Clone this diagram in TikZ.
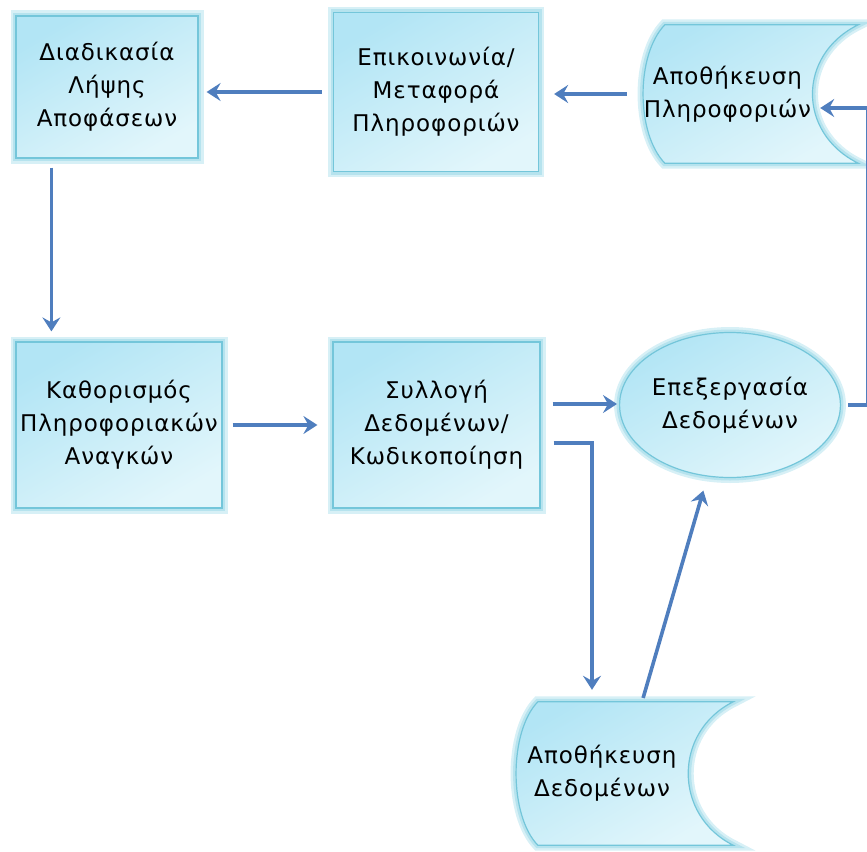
\documentclass[tikz,border=0pt]{standalone}
\usepackage{fontspec}
\setmainfont[LetterSpace=4]{DejaVu Sans}
\usetikzlibrary{positioning,shapes.geometric,arrows.meta,calc,backgrounds}

\definecolor{flowblue}{HTML}{4F7EBE}
\definecolor{aquaedge}{HTML}{74C6DA}
\definecolor{aquaglow}{HTML}{B6E3EE}
\definecolor{aquatop}{HTML}{B2E5F5}
\definecolor{aquabot}{HTML}{E2F6FB}

\tikzset{
  stepbox/.style={rectangle, draw=aquaedge, line width=1.2pt,
    top color=aquatop, bottom color=aquabot, shading angle=30,
    preaction={draw=aquaglow!55, line width=11pt},
    preaction={draw=aquaglow, line width=6pt},
    align=center, font=\fontsize{23}{33}\selectfont, inner sep=0pt},
  stepellipse/.style={stepbox, ellipse},
  storetext/.style={rectangle, draw=none, align=center, inner sep=0pt,
    font=\fontsize{23}{33}\selectfont},
  storeshape/.style={draw=aquaedge, line width=1.2pt,
    top color=aquatop, bottom color=aquabot, shading angle=30,
    preaction={draw=aquaglow!55, line width=11pt},
    preaction={draw=aquaglow, line width=6pt}},
  flow/.style={draw=flowblue, line width=3.6pt,
    -{Stealth[length=14pt, width=18pt, inset=5pt]}},
}

\begin{document}
\begin{tikzpicture}[x=1pt, y=-1pt]
        \useasboundingbox (0,0) rectangle (867,851);

        % top row
        \node[stepbox, minimum width=182pt, minimum height=142pt] (decide) at (107, 87) {Διαδικασία\\Λήψης\\Αποφάσεων};
        \node[stepbox, minimum width=205pt, minimum height=159pt] (transfer) at (436, 92) {Επικοινωνία/\\Μεταφορά\\Πληροφοριών};
        \node[storetext, minimum width=169pt, minimum height=138pt] (infostore) at (727.5, 94) {Αποθήκευση\\Πληροφοριών};

        % bottom row
        \node[stepbox, minimum width=206pt, minimum height=166pt] (needs) at (119, 425) {Καθορισμός\\Πληροφοριακών\\Αναγκών};
        \node[stepbox, minimum width=207pt, minimum height=166pt] (collect) at (436.5, 425) {Συλλογή\\Δεδομένων/\\Κωδικοποίηση};
        \node[stepellipse, minimum width=200pt, minimum height=145pt] (process) at (730, 405) {Επεξεργασία\\Δεδομένων};
        \node[storetext, minimum width=172pt, minimum height=143pt] (datastore) at (602, 773.5) {Αποθήκευση\\Δεδομένων};

        \begin{scope}[on background layer]
          \path[storeshape] ([xshift=22pt]infostore.north west) -- ([xshift=46pt]infostore.north east)
            .. controls +(-61pt,-30pt) and +(-61pt,30pt) .. ([xshift=46pt]infostore.south east)
            -- ([xshift=22pt]infostore.south west)
            .. controls +(-29pt,30pt) and +(-29pt,-30pt) .. ([xshift=22pt]infostore.north west) -- cycle;
          \path[storeshape] ([xshift=22pt]datastore.north west) -- ([xshift=45pt]datastore.north east)
            .. controls +(-60pt,-30pt) and +(-60pt,30pt) .. ([xshift=45pt]datastore.south east)
            -- ([xshift=22pt]datastore.south west)
            .. controls +(-29pt,30pt) and +(-29pt,-30pt) .. ([xshift=22pt]datastore.north west) -- cycle;
        \end{scope}

        \coordinate (loopturn) at (868, 405);

        \draw[flow, shorten <=16pt, shorten >=15pt] (infostore.west) -- (infostore.west -| transfer.east);
        \draw[flow, shorten <=11pt, shorten >=8pt] (transfer.west) -- (transfer.west -| decide.east);
        \draw[flow, shorten <=9pt, shorten >=10pt] ([xshift=36pt]decide.south west) -- ([xshift=36pt]decide.south west |- needs.north);
        \draw[flow, shorten <=10pt, shorten >=15pt] (needs.east) -- (collect.west);
        \draw[flow, shorten <=12pt, shorten >=2pt] ([yshift=21pt]collect.east) -- ([yshift=21pt]collect.east -| process.west);
        \draw[flow, shorten <=13pt, shorten >=12pt] ([yshift=-18pt]collect.east) -| ([xshift=-10pt]datastore.north);
        \draw[flow, shorten <=4pt, shorten >=13pt] ([xshift=40pt]datastore.north) -- ([xshift=-23pt]process.south);
        \draw[flow, shorten <=7pt, shorten >=8pt] (process.east) -- (loopturn) |- ([yshift=-14pt]infostore.east);
      \end{tikzpicture}
\end{document}
